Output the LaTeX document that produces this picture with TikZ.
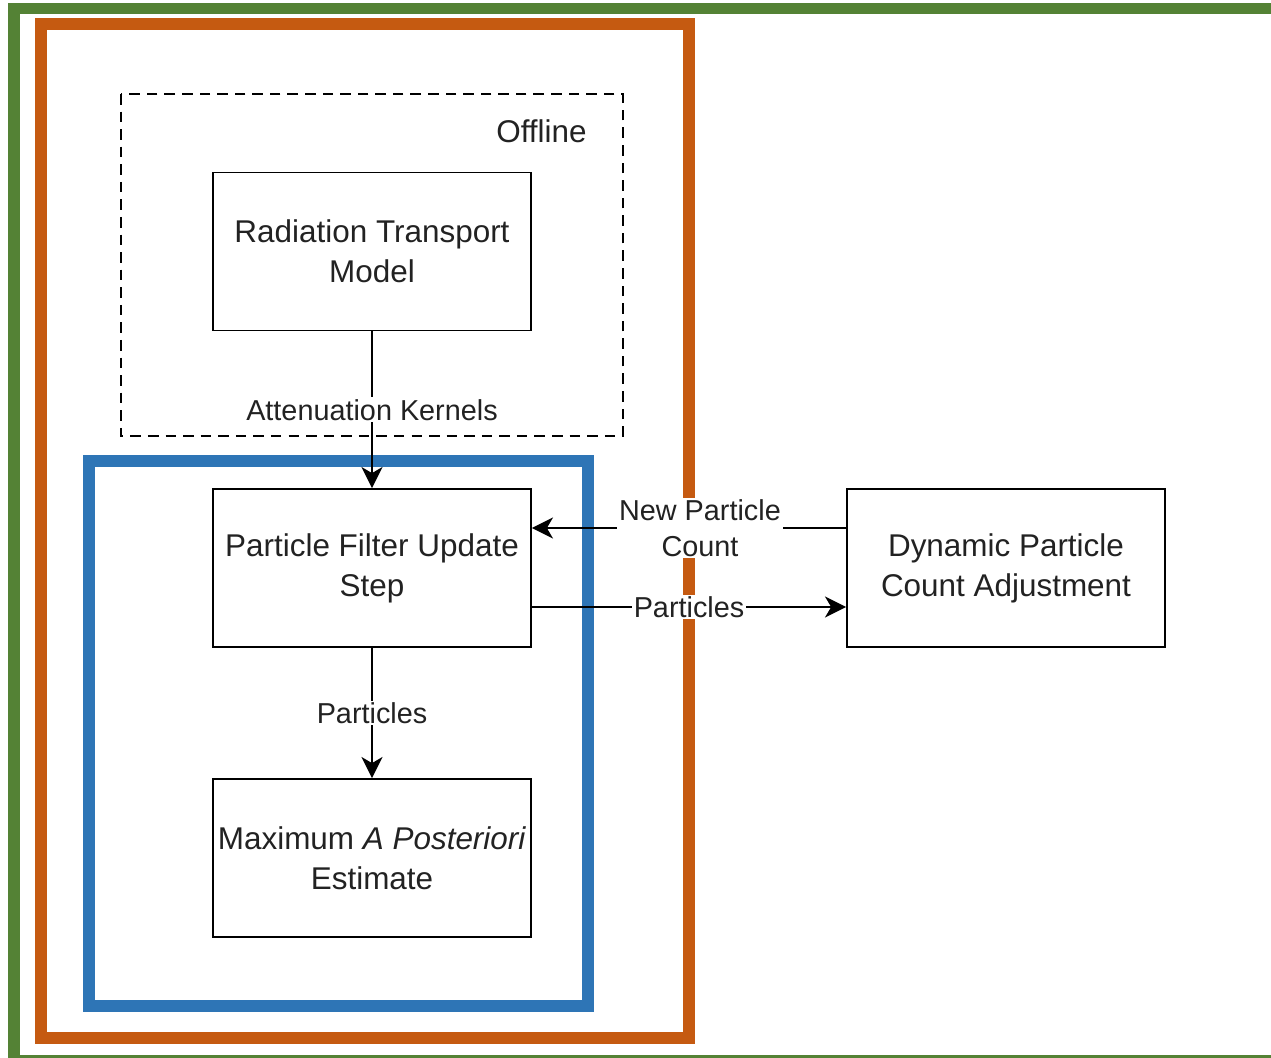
\documentclass[tikz,border=0pt]{standalone}
\usepackage{fontspec}
\setmainfont{Liberation Sans}
\usetikzlibrary{arrows.meta}
\definecolor{framegreen}{HTML}{548235}
\definecolor{frameorange}{HTML}{C55A11}
\definecolor{frameblue}{HTML}{2E75B6}
\definecolor{ink}{HTML}{222222}
\tikzset{
    box/.style={draw=black,line width=1.1pt,minimum width=6.36cm,minimum height=3.16cm,
        align=center,text=ink,font=\fontsize{17.9}{22.8}\selectfont,inner sep=0pt},
    lbl/.style={fill=white,text=ink,align=center,inner sep=1pt,
        font=\fontsize{16.4}{20.5}\selectfont},
    arr/.style={line width=1.1pt,-{Stealth[length=12pt,width=12pt,inset=3.5pt]}},
    frame/.style={line width=0.24cm}
}
\begin{document}
\begin{tikzpicture}[x=0.02cm,y=-0.02cm]
    \useasboundingbox (0,0) rectangle (1271,1058);
    \clip (0,0) rectangle (1271,1058);
    % outer frames
    \draw[frame,framegreen] (1300,8.5) -- (14,8.5) -- (14,1061) -- (1300,1061);
    \draw[frame,frameorange] (41,24) rectangle (689,1038);
    \draw[frame,frameblue] (89,461) rectangle (588,1006);
    % offline part
    \draw[dashed,line width=1.1pt,dash pattern=on 6pt off 4pt] (121,94) rectangle (623,436);
    \node[anchor=east,inner sep=0pt,text=ink,font=\fontsize{17.9}{22.8}\selectfont] (offline) at (587,131) {Offline};
    % boxes
    \node[box] (rtm) at (372,251.5) {Radiation Transport\\Model};
    \node[box] (pf) at (372,568) {Particle Filter Update\\Step};
    \node[box] (map) at (372,858) {Maximum \textit{A Posteriori}\\Estimate};
    \node[box] (dpc) at (1006,568) {Dynamic Particle\\Count Adjustment};
    % connectors
    \draw[arr] (rtm) -- node[lbl]{Attenuation Kernels} (pf);
    \draw[arr] (pf) -- node[lbl]{Particles} (map);
    \draw[arr] ([yshift=0.8cm]dpc.west) -- node[lbl,pos=0.465]{New Particle\\Count} ([yshift=0.8cm]pf.east);
    \draw[arr] ([yshift=-0.78cm]pf.east) -- node[lbl]{Particles} ([yshift=-0.78cm]dpc.west);
\end{tikzpicture}
\end{document}
